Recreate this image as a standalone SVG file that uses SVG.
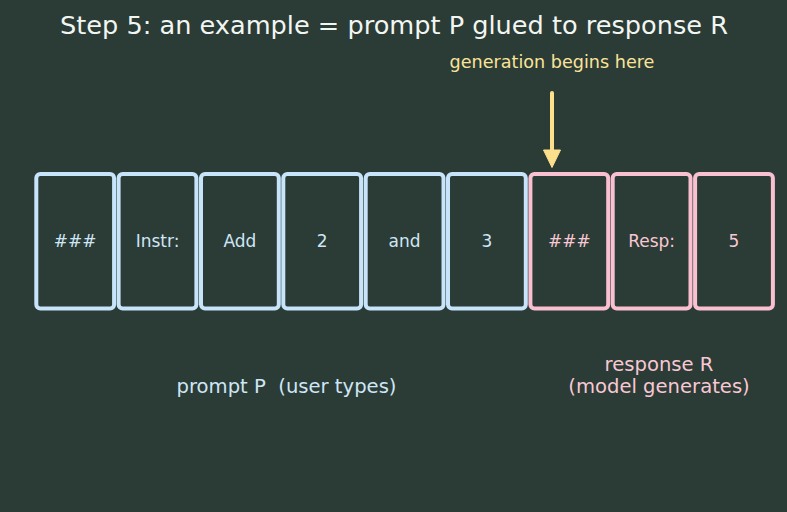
<svg xmlns="http://www.w3.org/2000/svg" width="787" height="512" viewBox="0 0 787 512">
<style>
text{font-family:"DejaVu Sans","Liberation Sans",sans-serif;text-anchor:middle;white-space:pre}
.bp{fill:#2b3b35;stroke:#c8e4fa;stroke-width:4}
.br{fill:#2b3b35;stroke:#f8c0d0;stroke-width:4}
.tp{fill:#cfe6f6;font-size:17px}
.tr{fill:#f8c8d4;font-size:17px}
</style>
<rect x="0" y="0" width="787" height="512" fill="#2b3b35"/>
<text x="394" y="34" font-size="25.6" fill="#f2f6f2">Step 5: an example = prompt P glued to response R</text>
<text x="552" y="68" font-size="17.6" fill="#fbe39a">generation begins here</text>
<g id="connectors">
<line x1="552" y1="93" x2="552" y2="152" stroke="#fde08c" stroke-width="4" stroke-linecap="round"/>
<polygon points="543.5,150 560.5,150 552,167.5" fill="#fde08c" stroke="#fde08c" stroke-width="1" stroke-linejoin="round"/>
</g>
<g id="n1"><rect class="bp" x="36.3" y="174" width="77.8" height="134.5" rx="4"/><text class="tp" x="75.2" y="247">###</text></g>
<g id="n2"><rect class="bp" x="118.6" y="174" width="77.8" height="134.5" rx="4"/><text class="tp" x="157.5" y="247">Instr:</text></g>
<g id="n3"><rect class="bp" x="201" y="174" width="77.8" height="134.5" rx="4"/><text class="tp" x="239.9" y="247">Add</text></g>
<g id="n4"><rect class="bp" x="283.3" y="174" width="77.8" height="134.5" rx="4"/><text class="tp" x="322.2" y="247">2</text></g>
<g id="n5"><rect class="bp" x="365.7" y="174" width="77.8" height="134.5" rx="4"/><text class="tp" x="404.6" y="247">and</text></g>
<g id="n6"><rect class="bp" x="448" y="174" width="77.8" height="134.5" rx="4"/><text class="tp" x="486.9" y="247">3</text></g>
<g id="n7"><rect class="br" x="530.4" y="174" width="77.8" height="134.5" rx="4"/><text class="tr" x="569.3" y="247">###</text></g>
<g id="n8"><rect class="br" x="612.7" y="174" width="77.8" height="134.5" rx="4"/><text class="tr" x="651.6" y="247">Resp:</text></g>
<g id="n9"><rect class="br" x="695.1" y="174" width="77.8" height="134.5" rx="4"/><text class="tr" x="734" y="247">5</text></g>
<text x="286.5" y="393" font-size="19.6" fill="#cfe6f6">prompt P  (user types)</text>
<text x="659" y="371" font-size="19.6" fill="#f8c8d4">response R</text>
<text x="659" y="393" font-size="19.6" fill="#f8c8d4">(model generates)</text>
</svg>
